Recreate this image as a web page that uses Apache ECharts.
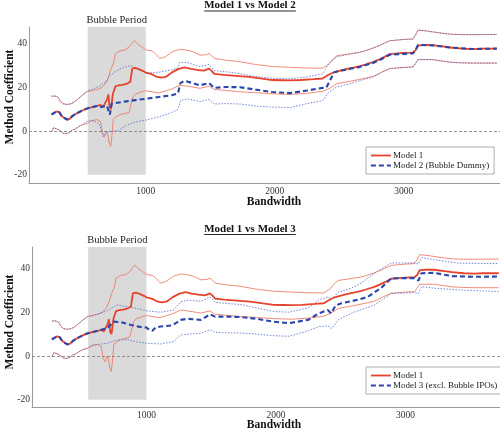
<!DOCTYPE html>
<html>
<head>
<meta charset="utf-8">
<script src="https://cdn.jsdelivr.net/npm/echarts@6/dist/echarts.min.js"></script>
<style>html,body{margin:0;padding:0;background:#fff}#c{width:500px;height:430px}</style>
</head>
<body>
<div id="c"></div>
<script>
// ---- Data (bandwidth, coefficient) ----
const xTicks = [1000, 2000, 3000];
const yTicks = [-20, 0, 20, 40];
const bubbleStart = 550, bubbleEnd = 1000;

// pre-bubble part, identical for all models
const sharedEst = [[270,7.6],[290,8.3],[310,9],[330,8.6],[350,6.8],[370,6],[390,5.3],[410,5.6],[430,6.8],[450,7.6],[470,8.3],[500,9.2],[530,10]];
const sharedHi = [[270,16],[285,16.6],[300,16],[320,15.5],[340,13.5],[360,12.5],[390,12.2],[420,12.5],[450,13.5],[480,15],[510,16.5]];
const sharedLo = [[270,-0.3],[285,1.5],[300,1.8],[320,0.8],[340,0],[360,-1],[390,-1.1],[410,-0.5],[430,0.5],[450,0.8],[480,2],[510,3]];

// Model 1
const m1EstTail = [[560,10.6],[590,11],[620,11.4],[650,12],[670,11.2],[685,10.3],[700,14.5],[710,16.8],[720,11],[730,10],[745,17],[765,20.5],[790,21],[820,21.2],[850,21.6],[880,22.6],[895,28.6],[920,29],[950,28.3],[980,27.5],[1000,26.8],[1040,26.2],[1080,25],[1120,24.5],[1160,25],[1200,26.8],[1250,28.4],[1300,29.2],[1350,28.5],[1400,28],[1450,27.7],[1490,28.6],[1510,27.6],[1530,26.2],[1600,25.8],[1700,25.3],[1800,24.8],[1900,24],[1980,23.4],[2050,23.3],[2120,23.2],[2200,23.4],[2300,23.8],[2370,24.1],[2410,25.6],[2440,26.5],[2480,27.2],[2530,28],[2580,28.7],[2620,29.2],[2660,29.8],[2700,30.5],[2760,31.6],[2800,32.6],[2850,34],[2890,35.3],[2950,35.6],[3000,35.8],[3070,36],[3090,37],[3110,39.2],[3160,39.5],[3220,39.4],[3300,38.8],[3360,38.3],[3450,37.8],[3530,37.6],[3600,37.8],[3720,37.8]];
const m1HiTail = [[545,18],[580,18.5],[620,19],[660,20],[690,22],[710,24.5],[730,28.5],[750,31],[765,35.5],[800,36.8],[840,37.2],[870,38.5],[890,40],[910,41.5],[925,40.8],[945,39.5],[970,38.6],[1000,37.2],[1050,36.8],[1080,35],[1110,33.3],[1150,34],[1210,36.5],[1264,37.5],[1300,37.3],[1360,36.5],[1420,34.8],[1470,35],[1490,35.6],[1510,34.6],[1530,33.3],[1620,32.5],[1730,31.8],[1850,30.5],[1980,29.6],[2120,29.2],[2250,28.9],[2370,28.8],[2420,30.8],[2450,33],[2480,34.5],[2580,35.4],[2650,36],[2700,36.8],[2760,38],[2820,39.5],[2890,41.4],[3000,42],[3070,42.2],[3090,44],[3110,46.3],[3160,46],[3220,45.5],[3300,44.8],[3360,44.4],[3450,44.2],[3530,44.2],[3720,44.3]];
const m1LoTail = [[545,3.5],[580,4.6],[620,5.3],[650,4.5],[665,-1],[680,-2.6],[695,0],[705,-1],[715,-5],[728,-7],[738,-2],[748,5.5],[770,6.5],[800,7.5],[830,8],[870,8.5],[885,9],[900,15.6],[920,17],[950,17.6],[980,18.2],[1000,18.5],[1050,18],[1100,17.5],[1160,18.5],[1210,19.5],[1264,21],[1320,20.6],[1420,19.6],[1490,20.6],[1530,19.1],[1620,18.6],[1730,18],[1850,17.6],[1980,17.1],[2120,16.8],[2250,17.3],[2370,18.2],[2420,19.4],[2480,21.7],[2580,22.8],[2650,23.6],[2760,25],[2820,26.8],[2890,28.7],[3000,29.2],[3070,29.4],[3090,31],[3110,32.8],[3220,32.8],[3300,32.1],[3360,31.6],[3450,31.3],[3530,31.2],[3720,31.2]];

// Model 2 (Bubble Dummy)
const m2EstTail = [[545,10.4],[580,11],[620,11.5],[660,11],[700,11.6],[712,9],[722,7.5],[735,12.5],[780,13],[850,13.6],[920,14.2],[1000,14.8],[1100,15.6],[1200,16.4],[1250,17.3],[1268,22],[1300,23],[1350,22.2],[1420,21],[1490,22],[1530,19.8],[1620,20.2],[1730,20.1],[1850,19],[1980,17.9],[2120,17.4],[2250,18.6],[2370,19.8],[2400,20],[2430,23.5],[2460,27],[2520,27.8],[2580,28.5],[2650,29.3],[2700,30.2],[2760,31.2],[2820,32.8],[2890,35],[3000,35.4],[3070,35.6],[3090,37],[3110,39.5],[3220,39.3],[3360,38.3],[3530,37.6],[3720,37.8]];
const m2HiTail = [[545,18.5],[580,19],[640,20.5],[700,23.2],[720,25.5],[760,27],[800,28.5],[850,29.5],[880,30],[940,28.5],[1000,26.5],[1100,27],[1200,28],[1250,29],[1264,31.5],[1320,31.5],[1420,29.5],[1490,30.5],[1530,27.7],[1620,27.2],[1730,26.3],[1850,25],[1980,24.2],[2120,24],[2250,24.8],[2370,26.2],[2420,31],[2480,34],[2580,35.3],[2650,36],[2700,36.8],[2760,38],[2820,39.5],[2890,41.4],[3000,42],[3070,42.2],[3090,44],[3110,46.3],[3160,46],[3220,45.5],[3300,44.8],[3360,44.4],[3450,44.2],[3530,44.2],[3720,44.3]];
const m2LoTail = [[545,4.5],[580,5],[640,3.5],[670,-2.6],[700,-0.5],[720,0],[780,0],[850,2.7],[920,4.2],[1000,5],[1100,6.5],[1200,8.5],[1250,10],[1270,14],[1320,14.8],[1420,13.5],[1490,14.5],[1530,12.4],[1620,12.6],[1730,12.4],[1850,11.5],[1980,11],[2120,10.8],[2250,12.6],[2370,14],[2420,17.9],[2480,20.2],[2580,21.7],[2650,23],[2760,24.7],[2820,26.6],[2890,28.6],[3000,29.1],[3070,29.3],[3090,31],[3110,32.7],[3220,32.7],[3300,32],[3360,31.5],[3450,31.2],[3530,31.1],[3720,31.1]];

// Model 3 (excl. Bubble IPOs)
const m3EstTail = [[560,10.6],[600,11.2],[650,12],[695,12.7],[720,14],[745,15.7],[800,15.5],[880,14.2],[950,13.3],[1000,13],[1020,12],[1045,11.5],[1070,13],[1110,13.5],[1200,14],[1264,16.5],[1320,17],[1420,16.5],[1490,19],[1530,18],[1620,18],[1730,17.8],[1850,17],[1980,15.7],[2100,15],[2250,16.5],[2330,19.5],[2400,21],[2426,19.5],[2460,23],[2500,24],[2580,25],[2650,26],[2710,27],[2810,31],[2890,35.5],[3000,35.6],[3070,35.5],[3100,34.5],[3124,37.8],[3220,38],[3360,36.5],[3530,36.2],[3720,36.3]];
const m3HiTail = [[545,18],[580,18.3],[695,20.6],[770,23.3],[850,22.5],[920,21.8],[1005,20.6],[1110,20],[1210,21],[1264,24.8],[1320,25.5],[1420,25],[1490,27],[1530,24.5],[1620,24],[1730,23.5],[1850,22],[1980,20.3],[2100,20],[2250,22],[2330,25.6],[2400,27],[2430,26],[2480,29],[2580,31],[2650,33],[2760,37.8],[2890,42.5],[3070,42.5],[3100,42],[3124,45],[3220,44],[3410,42.4],[3550,42.3],[3720,42.2]];
const m3LoTail = [[545,3.5],[580,5],[695,5.8],[770,7.3],[850,7.5],[920,6.5],[1005,5.8],[1110,5.5],[1210,6.6],[1264,9.6],[1320,10],[1420,10.4],[1490,12],[1530,10.8],[1620,10.6],[1730,10.5],[1850,10],[1980,9.3],[2100,9],[2250,11.5],[2330,13.4],[2400,13.8],[2430,12.5],[2480,16.5],[2580,19.5],[2650,21],[2760,23.3],[2890,28.5],[3070,29],[3100,28.5],[3124,31.7],[3220,31],[3410,30.2],[3550,29.8],[3720,29.5]];

const titles = ['Model 1 vs Model 2', 'Model 1 vs Model 3'];
const altNames = ['Model 2 (Bubble Dummy)', 'Model 3 (excl. Bubble IPOs)'];

// ---- Build ----
const m1Est = sharedEst.concat(m1EstTail), m1Hi = sharedHi.concat(m1HiTail), m1Lo = sharedLo.concat(m1LoTail);
const m2Est = sharedEst.concat(m2EstTail), m2Hi = sharedHi.concat(m2HiTail), m2Lo = sharedLo.concat(m2LoTail);
const m3Est = sharedEst.concat(m3EstTail), m3Hi = sharedHi.concat(m3HiTail), m3Lo = sharedLo.concat(m3LoTail);

const FONT = '"Liberation Serif", "Times New Roman", serif';
const RED = '#e6432c', RED_CI = 'rgba(238,120,100,0.85)';
const BLUE = '#2a46ad', BLUE_CI = 'rgba(80,105,205,0.8)';

const panels = [
  {grid:{left:29, top:27, width:471, height:156}, xMin:95, xMax:3745, yMin:-23.8, yMax:47.7,
   alt:{est:m2Est, hi:m2Hi, lo:m2Lo}, legendTop:147, legendLeft:366, titleY:0, yTitleY:97, xTitleY:202},
  {grid:{left:32, top:247, width:468, height:160}, xMin:116, xMax:3730, yMin:-23.3, yMax:49.8,
   alt:{est:m3Est, hi:m3Hi, lo:m3Lo}, legendTop:367, legendLeft:366, titleY:223.5, yTitleY:322, xTitleY:425}
];

const grids = [], xAxes = [], yAxes = [], series = [], legends = [], titleComps = [], graphics = [];
const mctx = document.createElement('canvas').getContext('2d');
const plain = v => String(v);

panels.forEach((p, i) => {
  grids.push(Object.assign({outerBoundsMode:'none', containLabel:false}, p.grid));
  xAxes.push({type:'value', gridIndex:i, min:p.xMin, max:p.xMax,
    axisLine:{show:true, onZero:false, lineStyle:{color:'#9a9a9a', width:1}},
    axisTick:{show:false, customValues:xTicks},
    axisLabel:{customValues:xTicks, formatter:plain, color:'#333', fontFamily:FONT, fontSize:9.5, margin:3},
    splitLine:{show:false}});
  yAxes.push({type:'value', gridIndex:i, min:p.yMin, max:p.yMax,
    axisLine:{show:true, onZero:false, lineStyle:{color:'#9a9a9a', width:1}},
    axisTick:{show:false, customValues:yTicks},
    axisLabel:{customValues:yTicks, formatter:plain, color:'#333', fontFamily:FONT, fontSize:9.5, margin:2},
    splitLine:{show:false}});

  // background: bubble period + zero line
  series.push({type:'line', name:'bg'+i, xAxisIndex:i, yAxisIndex:i, data:[], z:1, silent:true,
    markArea:{silent:true, itemStyle:{color:'#dadada'},
      label:{show:true, position:'top', distance:1, color:'#222', fontFamily:FONT, fontSize:10.5},
      data:[[{name:'Bubble Period', xAxis:bubbleStart, yAxis:-20}, {xAxis:bubbleEnd, yAxis:p.yMax}]]},
    markLine:{silent:true, symbol:'none', label:{show:false},
      lineStyle:{color:'#7a7a7a', type:[3,2], width:0.8}, data:[{yAxis:0}]}});

  const common = {type:'line', xAxisIndex:i, yAxisIndex:i, symbol:'none', showSymbol:false, silent:true};
  series.push(Object.assign({name:'m1hi'+i, data:m1Hi, z:2, lineStyle:{color:RED_CI, width:1}}, common));
  series.push(Object.assign({name:'m1lo'+i, data:m1Lo, z:2, lineStyle:{color:RED_CI, width:1}}, common));
  series.push(Object.assign({name:'althi'+i, data:p.alt.hi, z:3, lineStyle:{color:BLUE_CI, width:1, type:[1.5,1.5]}}, common));
  series.push(Object.assign({name:'altlo'+i, data:p.alt.lo, z:3, lineStyle:{color:BLUE_CI, width:1, type:[1.5,1.5]}}, common));
  series.push(Object.assign({name:'Model 1', data:m1Est, z:4, color:RED, lineStyle:{color:RED, width:1.8}}, common));
  series.push(Object.assign({name:altNames[i], data:p.alt.est, z:5, color:BLUE, lineStyle:{color:BLUE, width:2.1, type:[5,3]}}, common));

  legends.push({data:['Model 1', altNames[i]], orient:'vertical', left:p.legendLeft, top:p.legendTop,
    padding:[4,5,4,4], itemGap:1, itemWidth:20, itemHeight:9, selectedMode:false,
    itemStyle:{opacity:0}, lineStyle:{width:1.8},
    borderColor:'#9a9a9a', borderWidth:0.8, backgroundColor:'#fff',
    textStyle:{fontFamily:FONT, fontSize:9, color:'#222', padding:[0,0,0,-3]}});

  titleComps.push({text:titles[i], left:'center', top:p.titleY, padding:0,
    textStyle:{fontFamily:FONT, fontSize:11, fontWeight:'bold', color:'#111'}});
  mctx.font = 'bold 11px ' + FONT;
  const tw = mctx.measureText(titles[i]).width;
  graphics.push({type:'line', shape:{x1:250 - tw/2, y1:p.titleY + 11, x2:250 + tw/2, y2:p.titleY + 11},
    style:{stroke:'#111', lineWidth:0.9}, silent:true});
  graphics.push({type:'text', x:10, y:p.yTitleY, rotation:Math.PI/2,
    style:{text:'Method Coefficient', font:'bold 11.5px ' + FONT, fill:'#111', align:'center', verticalAlign:'middle'}});
  graphics.push({type:'text', x:274, y:p.xTitleY,
    style:{text:'Bandwidth', font:'bold 11.5px ' + FONT, fill:'#111', align:'center', verticalAlign:'middle'}});
});

const chart = echarts.init(document.getElementById('c'), null, {renderer:'canvas'});
chart.setOption({animation:false, backgroundColor:'#fff', title:titleComps, grid:grids,
  xAxis:xAxes, yAxis:yAxes, series:series, legend:legends, graphic:graphics});
</script>
</body>
</html>
